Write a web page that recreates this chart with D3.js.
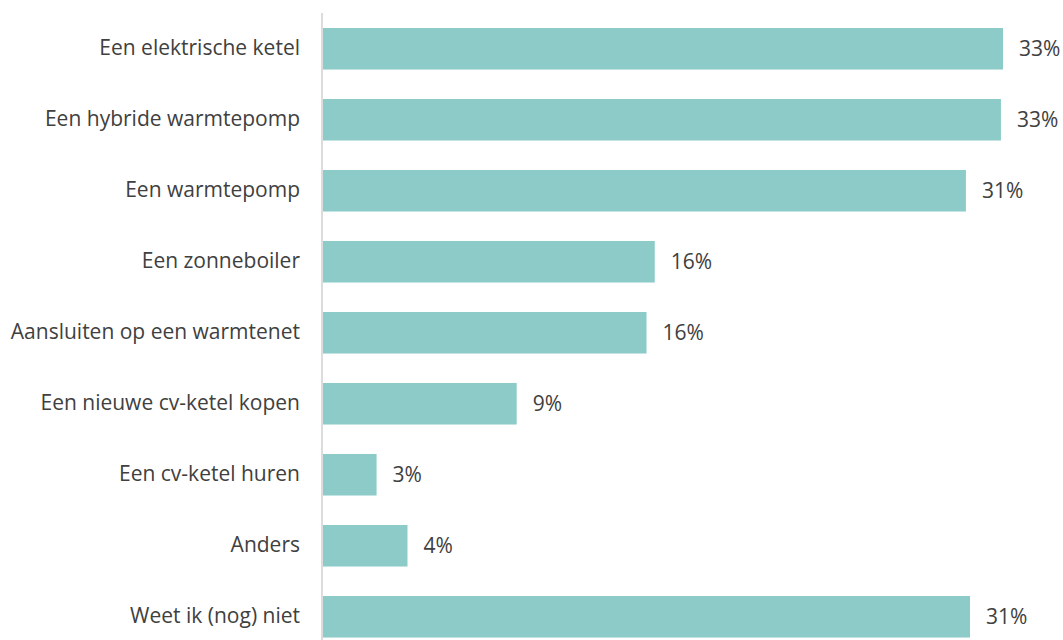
<!DOCTYPE html>
<html>
<head>
<meta charset="utf-8">
<script src="https://cdn.jsdelivr.net/npm/d3@7"></script>
<style>
  body { margin: 0; background: #fff; }
  text { font-family: "Open Sans", sans-serif; fill: #404040; }
</style>
</head>
<body>
<div id="chart"></div>
<script>
// categories and values (percent)
var categories = [
    "Een elektrische ketel",
    "Een hybride warmtepomp",
    "Een warmtepomp",
    "Een zonneboiler",
    "Aansluiten op een warmtenet",
    "Een nieuwe cv-ketel kopen",
    "Een cv-ketel huren",
    "Anders",
    "Weet ik (nog) niet"
];
var values = [33.0, 32.9, 31.2, 16.1, 15.7, 9.4, 2.6, 4.1, 31.4];

var w = 1063;
var h = 640;
var fontSize = "21px";

var svg = d3.select("#chart")
            .append("svg")
            .attr("width", w)
            .attr("height", h);

var x = d3.scaleLinear()
          .domain([0, 33])
          .range([323, 1003]);

var y = d3.scaleBand()
          .domain(categories)
          .range([13.25, 652.25])
          .paddingInner(0.415)
          .paddingOuter(0.2075);

var data = categories.map(function(c, i) {
    return { name: c, value: values[i] };
});

svg.selectAll("rect.bar")
   .data(data)
   .enter()
   .append("rect")
   .attr("class", "bar")
   .attr("x", x(0))
   .attr("y", function(d) { return y(d.name); })
   .attr("width", function(d) { return x(d.value) - x(0); })
   .attr("height", y.bandwidth())
   .style("fill", "#8ccbc8");

// value labels
svg.selectAll("text.val")
   .data(data)
   .enter()
   .append("text")
   .attr("class", "val")
   .attr("x", function(d) { return x(d.value) + 16; })
   .attr("y", function(d) { return y(d.name) + y.bandwidth() / 2; })
   .attr("dy", "0.35em")
   .style("font-size", fontSize)
   .text(function(d) { return Math.round(d.value) + "%"; });

// category axis
var yAxis = d3.axisLeft(y).tickSize(0).tickPadding(22);
var g = svg.append("g")
           .attr("transform", "translate(322,0)")
           .call(yAxis);
g.select(".domain").remove();
g.selectAll("text")
 .style("font-size", fontSize)
 .style("font-family", "'Open Sans', sans-serif")
 .style("fill", "#404040");

svg.append("line")
   .attr("x1", 322).attr("x2", 322)
   .attr("y1", 13).attr("y2", h)
   .style("stroke", "#d0d0d0")
   .style("stroke-width", 1.5);
</script>
</body>
</html>
